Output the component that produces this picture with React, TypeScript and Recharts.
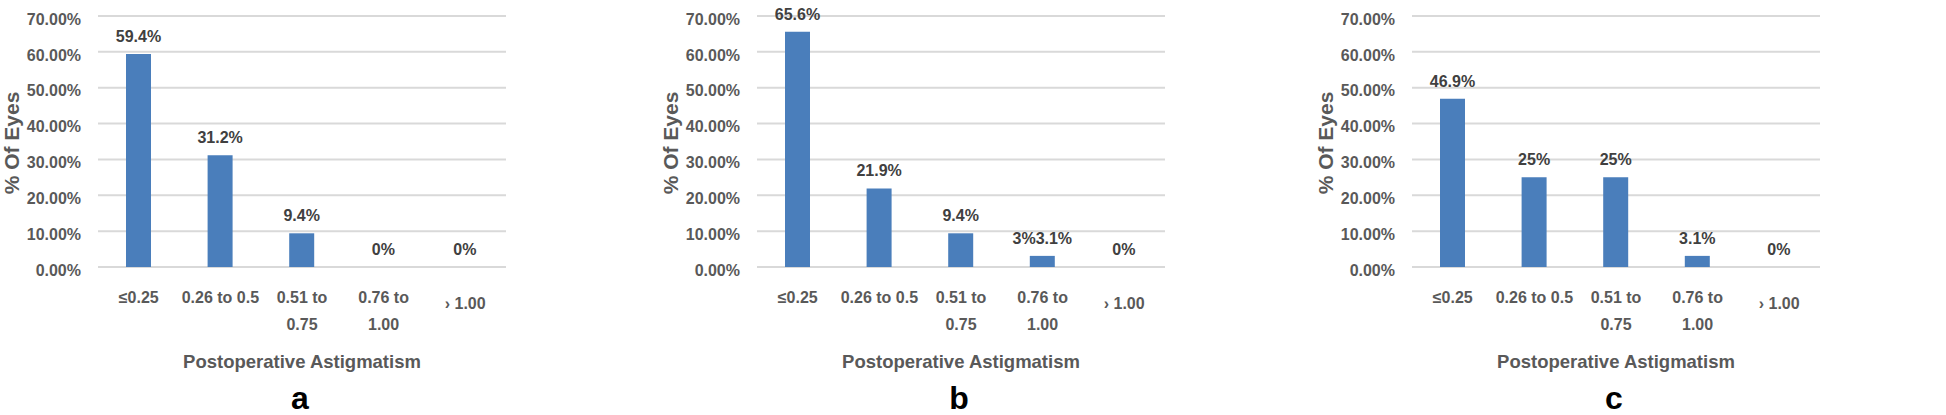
import React from 'react';
import { BarChart, Bar, XAxis, YAxis, CartesianGrid, LabelList } from 'recharts';

const categories = ['≤0.25', '0.26 to 0.5', '0.51 to\n0.75', '0.76 to\n1.00', '› 1.00'];
const yTicks = [0, 10, 20, 30, 40, 50, 60, 70];

const valuesA = [59.4, 31.2, 9.4, 0, 0];
const labelsA = ['59.4%', '31.2%', '9.4%', '0%', '0%'];

const valuesB = [65.6, 21.9, 9.4, 3.1, 0];
const labelsB = ['65.6%', '21.9%', '9.4%', '3%3.1%', '0%'];

const valuesC = [46.9, 25, 25, 3.1, 0];
const labelsC = ['46.9%', '25%', '25%', '3.1%', '0%'];

const panels = [
  { letter: 'a', values: valuesA, labels: labelsA, left: 0 },
  { letter: 'b', values: valuesB, labels: labelsB, left: 659 },
  { letter: 'c', values: valuesC, labels: labelsC, left: 1314 },
];

const FONT = '"Liberation Sans", Arial, sans-serif';
const AXIS_GRAY = '#595959';
const BAR_BLUE = '#4a7ebb';

function XTick({ x, y, payload }: any) {
  const value: string = payload.value;
  const lines = value.split('\n');
  const first = value.startsWith('›') ? 42 : 36;
  return (
    <text x={x} y={y} textAnchor="middle" fill={AXIS_GRAY} fontSize={16} fontWeight="bold" fontFamily={FONT}>
      {lines.map((l, i) => (
        <tspan key={i} x={x} dy={i === 0 ? first : 27}>{l}</tspan>
      ))}
    </text>
  );
}

function Panel({ letter, values, labels, left }: any) {
  const data = categories.map((c, i) => ({ cat: c, value: values[i], label: labels[i] }));
  return (
    <div style={{ position: 'absolute', left, top: 0, width: 630, height: 415 }}>
      <BarChart width={630} height={415} data={data} margin={{ top: 16, right: 124, left: 0, bottom: 88 }} barSize={25}>
        <CartesianGrid vertical={false} stroke="#d9d9d9" strokeWidth={2} />
        <XAxis dataKey="cat" axisLine={false} tickLine={false} tickSize={0} tickMargin={0} height={60} interval={0} tick={<XTick />} />
        <YAxis
          domain={[0, 70]}
          ticks={yTicks}
          width={98}
          axisLine={false}
          tickLine={false}
          tickSize={0}
          tickMargin={17}
          tickFormatter={(v: number) => v.toFixed(2) + '%'}
          tick={{ fill: AXIS_GRAY, fontSize: 16, fontWeight: 'bold', fontFamily: FONT, dy: 3 }}
        />
        <Bar dataKey="value" fill={BAR_BLUE} minPointSize={0.01} isAnimationActive={false}>
          <LabelList dataKey="label" position="top" offset={12} fill="#404040" fontSize={16} fontWeight="bold" fontFamily={FONT} />
        </Bar>
      </BarChart>
      <div style={{ position: 'absolute', left: 0, top: 143, width: 20, height: 0 }}>
        <div style={{ position: 'absolute', left: 11, top: 0, transform: 'translate(-50%, -50%) rotate(-90deg)', whiteSpace: 'nowrap', fontFamily: FONT, fontWeight: 'bold', fontSize: 21, lineHeight: 1, color: AXIS_GRAY }}>
          % Of Eyes
        </div>
      </div>
      <div style={{ position: 'absolute', left: 302, top: 362, transform: 'translate(-50%, -50%)', whiteSpace: 'nowrap', fontFamily: FONT, fontWeight: 'bold', fontSize: 18.5, color: AXIS_GRAY }}>
        Postoperative Astigmatism
      </div>
      <div style={{ position: 'absolute', left: 300, top: 398, transform: 'translate(-50%, -50%)', fontFamily: FONT, fontWeight: 'bold', fontSize: 32, color: '#000', lineHeight: 1 }}>
        {letter}
      </div>
    </div>
  );
}

export default function App() {
  return (
    <div style={{ position: 'absolute', left: 0, top: 0, width: 1946, height: 415, background: '#fff', overflow: 'hidden' }}>
      {panels.map((p) => (
        <Panel key={p.letter} {...p} />
      ))}
    </div>
  );
}
